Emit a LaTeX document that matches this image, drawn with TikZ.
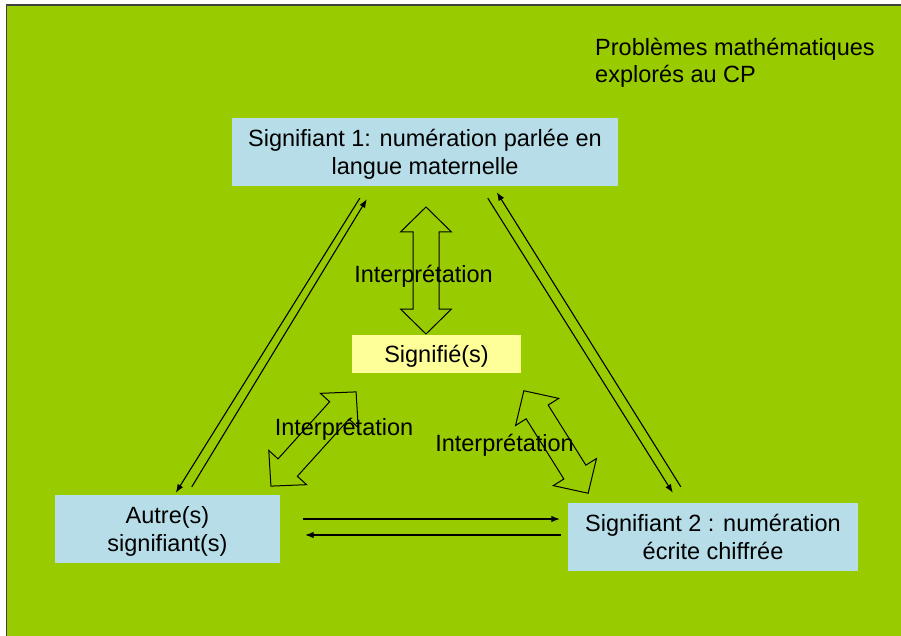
\documentclass[tikz,border=0pt]{standalone}
\usepackage{fontspec}
\setmainfont{Liberation Sans}
\usetikzlibrary{calc}
\usetikzlibrary{positioning}
\usetikzlibrary{arrows.meta}

\definecolor{fond}{RGB}{153,204,0}
\definecolor{bleu}{RGB}{183,222,232}
\definecolor{jaune}{RGB}{255,255,153}

% double block arrow: centre x, centre y, angle, length
\newcommand{\flechedouble}[4]{%
	\draw[double fleche,shift={(#1,#2)},rotate=#3]
	({#4/2},0) -- ({#4/2-25},25.5) -- ({#4/2-25},13) -- ({-#4/2+25},13)
	-- ({-#4/2+25},25.5) -- ({-#4/2},0) -- ({-#4/2+25},-25.5) -- ({-#4/2+25},-13)
	-- ({#4/2-25},-13) -- ({#4/2-25},-25.5) -- cycle;}

\begin{document}
\begin{tikzpicture}
			[
			x=1pt, y=-1pt,
			font=\fontsize{23.5}{27.5}\selectfont,
			>={Latex[length=8.5pt,width=6.5pt]}
			]
			
			% Box styles: signifiants in blue, signifie in yellow
			\tikzstyle{signifiant}=[rectangle,fill=bleu,inner sep=0,align=center,minimum height=68pt,text depth=0pt];
			\tikzstyle{signifie}=[rectangle,fill=jaune,inner sep=0,minimum width=169pt,minimum height=38pt,text depth=0pt];
			\tikzstyle{fleche}=[->,line width=1.1pt];
			\tikzstyle{double fleche}=[draw=black,line width=1pt];
			
			\useasboundingbox (0,0) rectangle (901,636);
			% Background
			\draw[fill=fond,draw=black!75,line width=1.5pt](6.5,5) rectangle (910,645);
			
			% The boxes
			\node(s1)[signifiant,minimum width=386pt] at (425,152) {Signifiant 1: numération parlée en\\langue maternelle};
			\node(sig)[signifie] at (436.5,354) {Signifié(s)};
			\node(autre)[signifiant,minimum width=225pt] at (167.5,529) {Autre(s)\\signifiant(s)};
			\node(s2)[signifiant,minimum width=290pt] at (713,537) {Signifiant 2 : numération\\écrite chiffrée};
			\node(titre)[anchor=north west,inner sep=0,align=left] at (595,37.5) {Problèmes mathématiques\\explorés au CP};
			
			% Arrows between signifiants
			% left side
			\draw[fleche]($(s1.south west)+(128,12)$)--($(autre.north west)+(121,-2)$);
			\draw[fleche]($(autre.north west)+(137,-8)$)--($(s1.south west)+(135,13)$);
			% right side
			\draw[fleche]($(s1.south west)+(256,12)$)--($(s2.north west)+(105,-10)$);
			\draw[fleche]($(s2.north west)+(113,-16)$)--($(s1.south west)+(265,6)$);
			% bottom
			\draw[fleche]($(autre.east)+(23,-10)$)--($(s2.west)+(-8,-18)$);
			\draw[fleche]($(s2.west)+(-7,-2)$)--($(autre.east)+(25,6)$);
			
			% Interpretation arrows
			\flechedouble{426}{270.5}{90}{127}
			\flechedouble{313.5}{439}{47.9}{127}
			\flechedouble{556}{442}{-57.9}{121}
			
			% Labels
			\node(i1)[anchor=base] at (423.5,282) {Interprétation};
			\node(i2)[anchor=base] at (344,435) {Interprétation};
			\node(i3)[anchor=base] at (504.5,451.5) {Interprétation};
			\end{tikzpicture}
\end{document}
